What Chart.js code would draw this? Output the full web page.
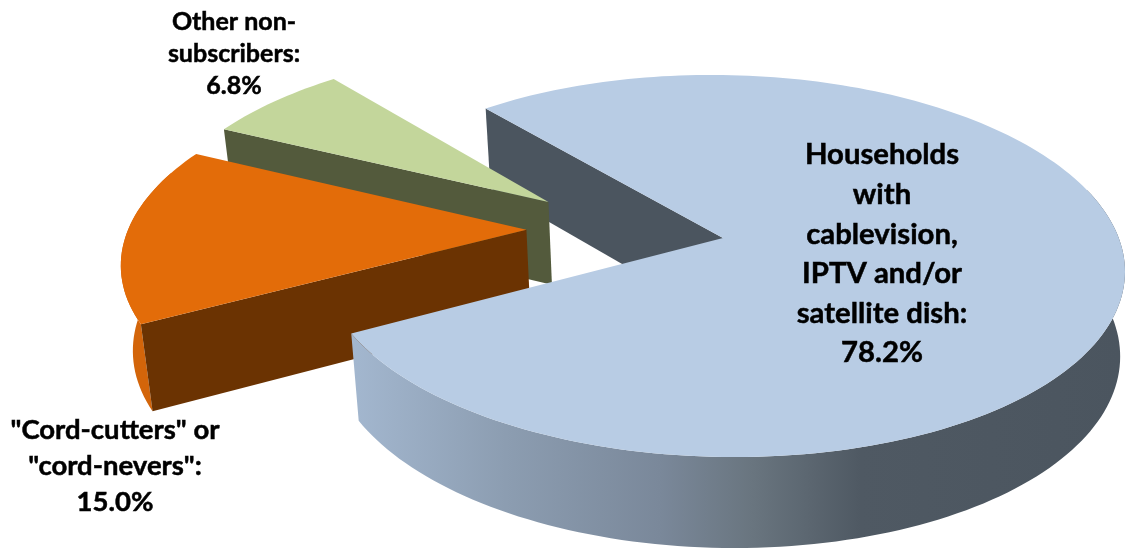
<!DOCTYPE html>
<html lang="en">
<head>
<meta charset="UTF-8">
<title>Households by TV subscription</title>
<script src="https://cdn.jsdelivr.net/npm/chart.js"></script>
<style>
  html, body { margin: 0; padding: 0; background: #fff; }
  #wrap { width: 1125px; height: 549px; }
</style>
</head>
<body>
<div id="wrap"><canvas id="pie"></canvas></div>
<script>
const categories = ["Households with cablevision, IPTV and/or satellite dish", "\"Cord-cutters\" or \"cord-nevers\"", "Other non-subscribers"];
const shares = [78.2, 15.0, 6.8];
const sliceLabels = [
  ["Households", "with", "cablevision,", "IPTV and/or", "satellite dish:", "78.2%"],
  ["\"Cord-cutters\" or", "\"cord-nevers\":", "15.0%"],
  ["Other non-", "subscribers:", "6.8%"]
];

// styling, same order as the categories
const topColors = ["#b8cce4", "#e36c09", "#c3d69b"];
const cutColors = ["#4b555f", "#6b3302", "#535a3c"];
const explodeTurn = [0, 0.5, -1]; // degrees, explosion isn't quite along the bisector in the original
const labelPlaces = [
  { x: 882, y: 155, step: 39.6, size: 29.3 },
  { x: 115, y: 430, step: 36, size: 27.5 },
  { x: 234, y: 22, step: 32, size: 25 }
];

// where the tilted disc of the main slice lands on the page
const view = { cx: 723, cy: 266, a: 402, b: 191, tilt: -0.147, skew: 0.014, depth: 84, convergeLeft: 0.02, convergeRight: 0.012 };
const gamma = 1 / Math.sqrt(1 - view.tilt * view.tilt);

function project(gx, gy, lower) {
  const w = 1 + view.tilt * gy;
  let x = view.cx + view.a * gx / (gamma * w);
  let y = view.cy + view.b * (gy + view.tilt) / w + view.skew * (x - view.cx);
  if (lower) {
    y += view.depth / Math.sqrt(w);
    x += (view.cx - x) * (x < view.cx ? view.convergeLeft : view.convergeRight);
  }
  return [x, y];
}

class Pie3DController extends Chart.PieController {
  // ground position of a slice: exploded along its middle, main slice tip is the origin
  sliceShape(el, idx) {
    const R = el.outerRadius;
    const tip = (s, i) => {
      const mid = (s.startAngle + s.endAngle) / 2 + explodeTurn[i] * Math.PI / 180;
      return [s.options.offset / R * Math.cos(mid), s.options.offset / R * Math.sin(mid)];
    };
    const t = tip(el, idx), o = tip(this.getMeta().data[0], 0);
    const ox = t[0] - o[0], oy = t[1] - o[1];
    const rim = [], front = [];
    const n = Math.ceil((el.endAngle - el.startAngle) * 40);
    for (let i = 0; i <= n; i++) {
      const ang = el.startAngle + (el.endAngle - el.startAngle) * i / n;
      const p = [ox + Math.cos(ang), oy + Math.sin(ang)];
      rim.push(p);
      if (Math.sin(ang) > -0.3) front.push(p); // far back of the rim is never seen
    }
    return { tip: [ox, oy], rim, front };
  }

  fillPath(ctx, pts, color) {
    ctx.beginPath();
    pts.forEach((p, i) => i ? ctx.lineTo(p[0], p[1]) : ctx.moveTo(p[0], p[1]));
    ctx.closePath();
    ctx.fillStyle = color;
    ctx.fill();
  }

  drawCutWall(ctx, shape, color) {
    const a = shape.tip, b = shape.rim[0];
    this.fillPath(ctx, [project(a[0], a[1]), project(b[0], b[1]), project(b[0], b[1], true), project(a[0], a[1], true)], color);
  }

  drawRimWall(ctx, shape, color) {
    if (!shape.front.length) return;
    const upper = shape.front.map(p => project(p[0], p[1]));
    const lower = shape.front.map(p => project(p[0], p[1], true)).reverse();
    this.fillPath(ctx, upper.concat(lower), color);
  }

  drawTop(ctx, shape, color) {
    const pts = shape.rim.map(p => project(p[0], p[1]));
    pts.unshift(project(shape.tip[0], shape.tip[1]));
    this.fillPath(ctx, pts, color);
  }

  draw() {
    const ctx = this.chart.ctx;
    const arcs = this.getMeta().data;
    const shapes = arcs.map((el, i) => this.sliceShape(el, i));

    const shade = ctx.createLinearGradient(352, 0, 1122, 0);
    shade.addColorStop(0, "#a3b7cf");
    shade.addColorStop(0.2, "#8c9db1");
    shade.addColorStop(0.4, "#7a889a");
    shade.addColorStop(0.52, "#69757f");
    shade.addColorStop(0.66, "#4f5963");
    shade.addColorStop(1, "#4b555f");
    const rimColors = [shade, "#d3650a", "#535a3c"];

    // back to front, main slice's cut face sits behind the two exploded slices
    this.drawCutWall(ctx, shapes[0], cutColors[0]);
    [2, 1].forEach(i => {
      this.drawRimWall(ctx, shapes[i], rimColors[i]);
      this.drawCutWall(ctx, shapes[i], cutColors[i]);
      this.drawTop(ctx, shapes[i], topColors[i]);
    });
    this.drawRimWall(ctx, shapes[0], rimColors[0]);
    this.drawTop(ctx, shapes[0], topColors[0]);
  }
}
Pie3DController.id = "pie3d";
Pie3DController.defaults = Chart.PieController.defaults;
Chart.register(Pie3DController);

const labelPlugin = {
  id: "sliceText",
  afterDraw(chart) {
    const ctx = chart.ctx;
    ctx.save();
    ctx.fillStyle = "#000";
    ctx.strokeStyle = "#000";
    ctx.lineWidth = 0.5;
    ctx.textAlign = "center";
    ctx.textBaseline = "middle";
    sliceLabels.forEach((lines, i) => {
      const place = labelPlaces[i];
      ctx.font = "bold " + place.size + "px Lato, 'Open Sans', sans-serif";
      lines.forEach((line, j) => {
        ctx.fillText(line, place.x, place.y + j * place.step);
        ctx.strokeText(line, place.x, place.y + j * place.step);
      });
    });
    ctx.restore();
  }
};

new Chart(document.getElementById("pie"), {
  type: "pie3d",
  data: {
    labels: categories,
    datasets: [{ data: shares, backgroundColor: topColors, offset: 61, borderWidth: 0 }]
  },
  options: {
    responsive: true,
    maintainAspectRatio: false,
    animation: false,
    rotation: 318.5,
    plugins: { legend: { display: false }, tooltip: { enabled: false } }
  },
  plugins: [labelPlugin]
});
</script>
</body>
</html>
